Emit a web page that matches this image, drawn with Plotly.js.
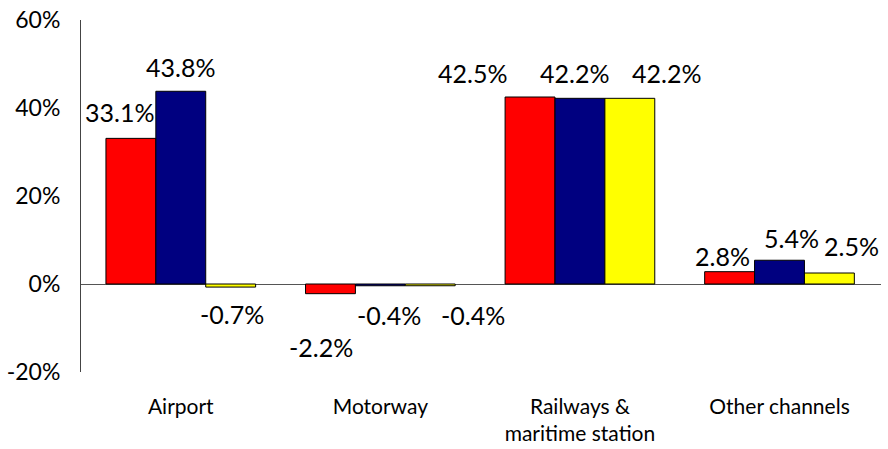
<!DOCTYPE html>
<html>
<head>
<meta charset="utf-8">
<script src="https://cdn.plot.ly/plotly-3.0.1.min.js"></script>
<style>html,body{margin:0;padding:0;background:#fff;}#chart{width:888px;height:449px;}</style>
</head>
<body>
<div id="chart"></div>
<script>
const categories = ["Airport", "Motorway", "Railways &<br>maritime station", "Other channels"];
const seriesA = [33.1, -2.2, 42.5, 2.8];
const seriesB = [43.8, -0.4, 42.2, 5.4];
const seriesC = [-0.7, -0.4, 42.2, 2.5];
const seriesNames = ["Series 1", "Series 2", "Series 3"];
const tickValues = [-20, 0, 20, 40, 60];
const tickLabels = ["-20%", "0%", "20%", "40%", "60%"];

const colors = ["#FF0000", "#000080", "#FFFF00"];
const allSeries = [seriesA, seriesB, seriesC];
const FONT = "Lato, 'Liberation Sans', sans-serif";

const traces = allSeries.map((s, i) => ({
  type: "bar", x: categories, y: s, name: seriesNames[i],
  marker: {color: colors[i], line: {color: "#000", width: 1}},
  hoverinfo: "skip"
}));

// label offsets (pixels) per series per category: [dx, dy(up positive)]
const labelOffsets = [
  [[-11, 26], [-9, -53], [-57, 24], [-7, 16]],
  [[0, 24], [9, -29], [-5, 25], [12, 22]],
  [[1, -27], [43, -29], [37, 25], [22, 27]]
];
const barShift = [-50, 0, 50];
const annotations = [];
allSeries.forEach((s, i) => {
  s.forEach((v, j) => {
    annotations.push({
      x: categories[j], y: v, xref: "x", yref: "y",
      text: v.toFixed(1) + "%", showarrow: false,
      xshift: barShift[i] + labelOffsets[i][j][0],
      yshift: labelOffsets[i][j][1],
      xanchor: "center", yanchor: "middle",
      font: {family: FONT, size: 25, color: "#000"}
    });
  });
});

const layout = {
  width: 888, height: 449,
  margin: {l: 81, r: 7, t: 20, b: 77},
  paper_bgcolor: "#fff", plot_bgcolor: "#fff",
  barmode: "group", bargap: 0.25, bargroupgap: 0,
  showlegend: false,
  xaxis: {
    showline: false, showgrid: false, zeroline: false, ticks: "",
    ticklabelstandoff: 20,
    tickfont: {family: FONT, size: 21, color: "#000"},
    fixedrange: true
  },
  yaxis: {
    range: [-20, 60], tickvals: tickValues, ticktext: tickLabels,
    showgrid: false, showline: true, linecolor: "#444", linewidth: 1,
    zeroline: true, zerolinecolor: "#555", zerolinewidth: 1,
    ticks: "", ticklabelstandoff: 15,
    tickfont: {family: FONT, size: 23, color: "#000"},
    fixedrange: true
  },
  annotations: annotations
};

Plotly.newPlot("chart", traces, layout, {displayModeBar: false, staticPlot: true});
</script>
</body>
</html>
